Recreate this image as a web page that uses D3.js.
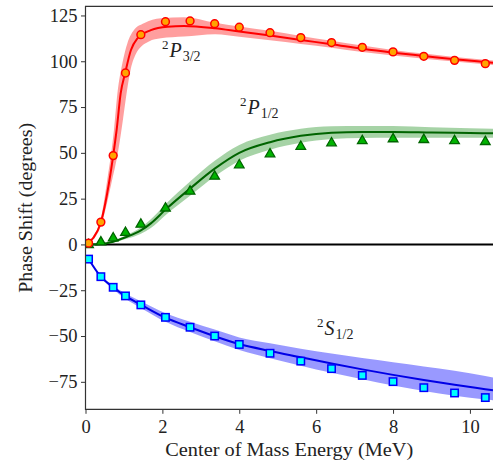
<!DOCTYPE html>
<html>
<head>
<meta charset="utf-8">
<script src="https://cdn.jsdelivr.net/npm/d3@7"></script>
<style>
  body { margin: 0; background: #fff; }
  text { font-family: "Liberation Serif", "Times New Roman", serif; fill: #222; }
</style>
</head>
<body>
<svg id="chart" width="493" height="463"></svg>
<script>
// measured phase shifts (degrees) at each energy (MeV)
const energies = [0.08, 0.4, 0.72, 1.04, 1.44, 2.08, 2.72, 3.36, 4.0, 4.8, 5.6, 6.4, 7.2, 8.0, 8.8, 9.6, 10.4];
const p32Points = [0.7, 12.2, 48.5, 93.6, 114.5, 121.6, 122.0, 120.5, 118.6, 115.6, 112.9, 110.2, 107.6, 105.1, 102.7, 100.5, 98.7];
const p12Points = [0.2, 1.7, 3.9, 6.9, 11.4, 20.2, 29.4, 37.6, 43.8, 49.8, 53.9, 55.8, 57.0, 58.0, 57.6, 57.0, 56.5];
const s12Points = [-8.0, -17.6, -23.4, -28.1, -33.0, -39.8, -45.2, -50.0, -54.6, -59.4, -63.7, -67.8, -71.5, -74.9, -78.2, -81.1, -83.6];

// 2P3/2 fit and its band (band edges have their own energies, steep rise)
const p32FitE = [0, 0.2, 0.4, 0.61, 0.72, 0.81, 0.915, 1.03, 1.18, 1.35, 1.7, 2.13, 2.56, 3.37, 4.0, 4.8, 5.6, 6.4, 7.2, 8.0, 8.8, 9.6, 10.4, 10.6];
const p32Fit = [0, 3.5, 12.1, 33.4, 48.5, 62.5, 82.5, 93.4, 106, 112.5, 117, 118.9, 119.3, 118.0, 116.2, 114.0, 111.6, 109.3, 106.8, 104.7, 102.9, 101.1, 99.6, 99.2];
const p32UpE = [0, 0.2, 0.4, 0.55, 0.74, 0.83, 0.96, 1.09, 1.26, 1.52, 1.96, 2.56, 3.37, 4.0, 4.8, 5.6, 6.4, 7.2, 8.0, 8.8, 9.6, 10.6];
const p32Up = [0, 4.5, 14, 33, 62.5, 82.5, 99, 109.8, 117, 120.7, 123.5, 124, 121, 119, 116.6, 113.8, 111.2, 108.6, 106.2, 104.2, 102.3, 100.4];
const p32LoE = [0, 0.2, 0.4, 0.67, 0.85, 0.98, 1.08, 1.18, 1.3, 1.45, 1.65, 1.96, 2.56, 3.37, 4.0, 4.8, 5.6, 6.4, 7.2, 8.0, 9.0, 10.6];
const p32Lo = [0, 2.5, 10, 33, 51, 69, 84, 96, 103.5, 108, 110.8, 112.5, 113.5, 114.8, 113.4, 111.4, 109.4, 107.4, 105.0, 103.2, 101, 98.0];

// 2P1/2 fit and band
const p12FitE = [0, 0.4, 0.72, 1.04, 1.43, 1.7, 2.08, 2.72, 3.37, 4.0, 4.8, 5.6, 6.4, 7.2, 8.0, 9.0, 10.0, 10.6];
const p12Fit = [0, 0.3, 1.5, 3.9, 7.5, 11.5, 19, 30.5, 41.5, 50, 55.8, 59.3, 61, 61.4, 61.4, 61.1, 60.8, 60.7];
const p12Up = [0, 0.5, 2.0, 4.9, 9.3, 13.8, 22, 34.4, 45.8, 54.3, 59.9, 63.1, 64.5, 64.7, 64.6, 64.0, 63.4, 63.2];
const p12Lo = [0, 0.1, 1.0, 2.9, 5.7, 9.0, 16, 26.6, 37.2, 45.7, 51.7, 55.5, 57.5, 58.1, 58.2, 58.2, 58.3, 58.2];

// 2S1/2 fit and band
const s12FitE = [0.08, 0.4, 0.72, 1.03, 1.45, 2.08, 2.72, 3.36, 4.0, 4.8, 5.6, 6.4, 7.2, 8.0, 8.8, 9.6, 10.4, 10.6];
const s12Fit = [-7.9, -17.6, -23.4, -28.1, -33, -40, -45.2, -50.1, -54.4, -58.2, -61.6, -65, -68.2, -71.2, -74, -76.6, -79, -79.6];
const s12Up = [-7.9, -17, -22.4, -26.7, -31.2, -37.6, -42.2, -46.5, -50.8, -54, -56.9, -59.6, -62, -64.3, -66.6, -68.9, -71.8, -72.6];
const s12Lo = [-7.9, -18.2, -24.4, -29.5, -34.8, -42.2, -47.8, -52.9, -57.6, -62.1, -66.2, -70.1, -73.6, -77.0, -80, -82.6, -84.6, -85];

const xTicks = [0, 2, 4, 6, 8, 10];
const yTicks = [-75, -50, -25, 0, 25, 50, 75, 100, 125];

const svg = d3.select('#chart');
const plotL = 85.5, plotR = 493, plotT = 6.3, plotB = 409.3;

const x = d3.scaleLinear().domain([0, 10.6]).range([plotL, plotR]);
const y = d3.scaleLinear().domain([-90, 130]).range([plotB, plotT]);

svg.append('defs').append('clipPath').attr('id', 'plot')
  .append('rect').attr('x', plotL).attr('y', plotT)
  .attr('width', plotR - plotL).attr('height', plotB - plotT);

const g = svg.append('g').attr('clip-path', 'url(#plot)');

const pairs = (xs, ys) => xs.map((v, i) => [v, ys[i]]);

// bands: top edge and bottom edge may use different energies
const band = (upE, up, loE, lo, color, op) => {
  const pts = up.map((v, i) => ({ xu: upE[i], yu: v, xl: loE[i], yl: lo[i] }));
  g.append('path')
    .datum(pts)
    .attr('fill', color)
    .attr('fill-opacity', op)
    .attr('d', d3.area()
      .curve(d3.curveMonotoneX)
      .x1(d => x(d.xu)).y1(d => y(d.yu))
      .x0(d => x(d.xl)).y0(d => y(d.yl)));
};

band(p32UpE, p32Up, p32LoE, p32Lo, '#ff0000', 0.38);
band(p12FitE, p12Up, p12FitE, p12Lo, '#008000', 0.35);
band(s12FitE, s12Up, s12FitE, s12Lo, '#0000ff', 0.4);

// zero line
g.append('line')
  .attr('x1', plotL).attr('x2', plotR)
  .attr('y1', y(0)).attr('y2', y(0))
  .attr('stroke', '#000').attr('stroke-width', 2);

const line = d3.line().curve(d3.curveMonotoneX).x(d => x(d[0])).y(d => y(d[1]));

g.append('path').datum(pairs(p32FitE, p32Fit))
  .attr('fill', 'none').attr('stroke', '#ff0000').attr('stroke-width', 2).attr('d', line);
g.append('path').datum(pairs(p12FitE, p12Fit))
  .attr('fill', 'none').attr('stroke', '#006400').attr('stroke-width', 2).attr('d', line);
g.append('path').datum(pairs(s12FitE, s12Fit))
  .attr('fill', 'none').attr('stroke', '#0000e6').attr('stroke-width', 2).attr('d', line);

// markers
g.selectAll('rect.s12')
  .data(pairs(energies, s12Points))
  .enter().append('rect')
  .attr('class', 's12')
  .attr('x', d => x(d[0]) - 3.7)
  .attr('y', d => y(d[1]) - 3.7)
  .attr('width', 7.4).attr('height', 7.4)
  .attr('fill', '#00ffff').attr('stroke', '#0000ff').attr('stroke-width', 1.5);

const tri = d3.symbol().type(d3.symbolTriangle).size(40);
g.selectAll('path.p12')
  .data(pairs(energies, p12Points))
  .enter().append('path')
  .attr('class', 'p12')
  .attr('transform', d => `translate(${x(d[0])},${y(d[1]) + 0.8})`)
  .attr('d', tri)
  .attr('fill', '#00b400').attr('stroke', '#006400').attr('stroke-width', 1.3);

g.selectAll('circle.p32')
  .data(pairs(energies, p32Points))
  .enter().append('circle')
  .attr('class', 'p32')
  .attr('cx', d => x(d[0]))
  .attr('cy', d => y(d[1]))
  .attr('r', 3.9)
  .attr('fill', '#ffa500').attr('stroke', '#ff0000').attr('stroke-width', 1.5);

// axes
const xAxis = d3.axisBottom(x).tickValues(xTicks).tickSize(4.5).tickSizeOuter(0).tickPadding(6)
  .tickFormat(d3.format('d'));
const yAxis = d3.axisLeft(y).tickValues(yTicks).tickSize(4.5).tickSizeOuter(0).tickPadding(3.5)
  .tickFormat(d => (d < 0 ? '\u2212' + Math.abs(d) : String(d)));

const gx = svg.append('g').attr('transform', `translate(0,${plotB})`).call(xAxis);
const gy = svg.append('g').attr('transform', `translate(${plotL},0)`).call(yAxis);
[gx, gy].forEach(a => {
  a.select('.domain').remove();
  a.selectAll('line').attr('stroke', '#333').attr('stroke-width', 1);
  a.selectAll('text').attr('font-family', '"Liberation Serif", serif')
    .attr('font-size', 18.5).attr('fill', '#222');
});

// spines
svg.append('path')
  .attr('d', `M${plotR},${plotT}H${plotL}V${plotB}H${plotR}`)
  .attr('fill', 'none').attr('stroke', '#333').attr('stroke-width', 1.2);

// axis titles
svg.append('text')
  .attr('x', (plotL + plotR) / 2).attr('y', 456)
  .attr('text-anchor', 'middle').attr('font-size', 19)
  .attr('textLength', 248).attr('lengthAdjust', 'spacingAndGlyphs')
  .text('Center of Mass Energy (MeV)');

svg.append('text')
  .attr('transform', `translate(32,${(plotT + plotB) / 2}) rotate(-90)`)
  .attr('text-anchor', 'middle').attr('font-size', 19)
  .attr('textLength', 170).attr('lengthAdjust', 'spacingAndGlyphs')
  .text('Phase Shift (degrees)');

// wave labels
const waveLabel = (px, py, letter, sub) => {
  const t = svg.append('text').attr('x', px).attr('y', py).attr('font-size', 20);
  t.append('tspan').attr('font-size', 13).attr('dy', -8).text('2');
  t.append('tspan').attr('font-style', 'italic').attr('dy', 8).attr('dx', 1).text(letter);
  t.append('tspan').attr('font-size', 14).attr('dy', 4).attr('dx', 1).text(sub);
};
waveLabel(162, 57, 'P', '3/2');
waveLabel(240, 114, 'P', '1/2');
waveLabel(317, 335, 'S', '1/2');
</script>
</body>
</html>
